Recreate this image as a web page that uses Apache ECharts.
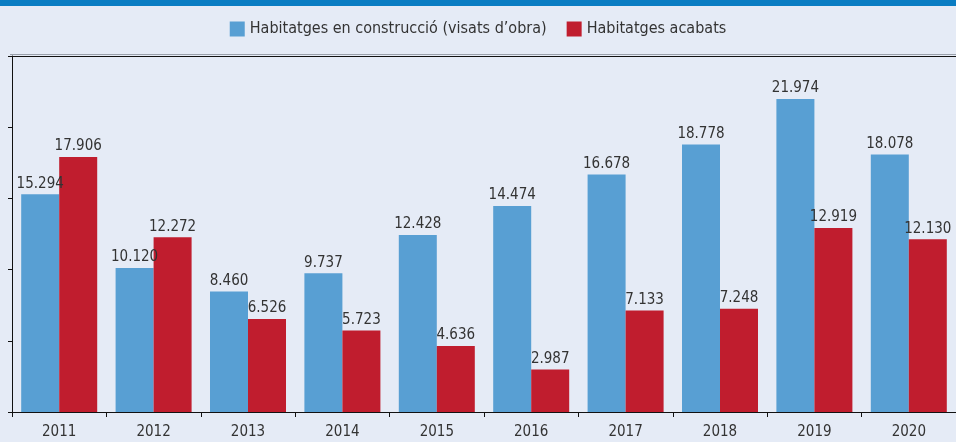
<!DOCTYPE html>
<html>
<head>
<meta charset="utf-8">
<script src="https://cdn.jsdelivr.net/npm/echarts@6/dist/echarts.min.js"></script>
<style>
  html, body { margin: 0; padding: 0; background: #e5ebf6; }
  #bar { width: 956px; height: 442px; }
</style>
</head>
<body>
<div id="bar"></div>
<script>
// anys i valors (habitatges)
const years = ['2011', '2012', '2013', '2014', '2015', '2016', '2017', '2018', '2019', '2020'];
const enConstruccio = [15294, 10120, 8460, 9737, 12428, 14474, 16678, 18778, 21974, 18078];
const acabats = [17906, 12272, 6526, 5723, 4636, 2987, 7133, 7248, 12919, 12130];
const yTicks = [0, 5000, 10000, 15000, 20000, 25000];

const fmt = v => String(v).replace(/\B(?=(\d{3})+(?!\d))/g, '.');
const font = '"Liberation Sans Narrow", "DejaVu Sans Condensed", "Liberation Sans", sans-serif';

const chart = echarts.init(document.getElementById('bar'));

chart.setOption({
  animation: false,
  backgroundColor: '#e5ebf6',
  graphic: [{
    type: 'rect',
    left: 0, top: 0,
    shape: { width: 956, height: 6 },
    style: { fill: '#0a7dc3' }
  }, {
    type: 'rect',
    left: 10, top: 54,
    shape: { width: 946, height: 1 },
    style: { fill: '#9aa0aa' }
  }],
  legend: {
    top: 16,
    left: 'center',
    itemWidth: 15,
    itemHeight: 15,
    itemGap: 20,
    icon: 'rect',
    textStyle: { fontFamily: font, fontSize: 16, color: '#333' }
  },
  grid: { left: 12, right: -2, top: 56, bottom: 30 },
  xAxis: [{
    type: 'category',
    data: years,
    axisLine: { lineStyle: { color: '#111', width: 1 } },
    axisTick: { show: true, length: 5, lineStyle: { color: '#111' } },
    axisLabel: { fontFamily: font, fontSize: 15, color: '#333', margin: 13 }
  }, {
    type: 'category',
    position: 'top',
    data: years,
    axisLine: { show: true, lineStyle: { color: '#111', width: 1 } },
    axisTick: { show: false },
    axisLabel: { show: false }
  }],
  yAxis: {
    type: 'value',
    min: yTicks[0],
    max: yTicks[yTicks.length - 1],
    interval: 5000,
    axisLine: { show: true, lineStyle: { color: '#111' } },
    axisTick: { show: true, length: 4, lineStyle: { color: '#111' } },
    axisLabel: { show: false },
    splitLine: { show: false }
  },
  series: [{
    name: 'Habitatges en construcció (visats d’obra)',
    type: 'bar',
    data: enConstruccio,
    barWidth: 38,
    barGap: '0%',
    itemStyle: { color: '#589fd3' },
    label: {
      show: true, position: 'top', distance: 3,
      fontFamily: font, fontSize: 15, color: '#333',
      formatter: p => fmt(p.value)
    }
  }, {
    name: 'Habitatges acabats',
    type: 'bar',
    data: acabats,
    barWidth: 38,
    barGap: '0%',
    itemStyle: { color: '#c01d2e' },
    label: {
      show: true, position: 'top', distance: 3,
      fontFamily: font, fontSize: 15, color: '#333',
      formatter: p => fmt(p.value)
    }
  }]
});
</script>
</body>
</html>
